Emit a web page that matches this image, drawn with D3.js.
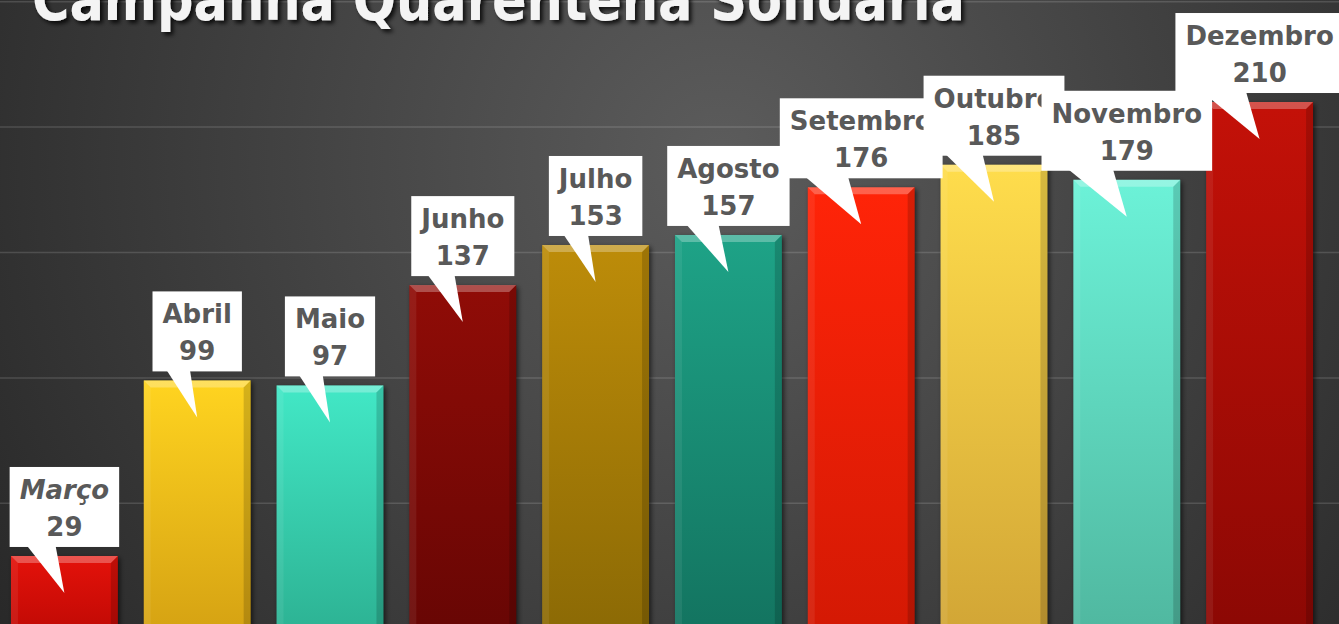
<!DOCTYPE html>
<html>
<head>
<meta charset="utf-8">
<script src="https://cdn.jsdelivr.net/npm/d3@7"></script>
<style>
  html, body { margin: 0; padding: 0; background: #3a3a3a; overflow: hidden; }
  svg { display: block; }
</style>
</head>
<body>
<div id="chart"></div>
<script>
const width = 1339, height = 624;

const months = ['Março', 'Abril', 'Maio', 'Junho', 'Julho', 'Agosto', 'Setembro', 'Outubro', 'Novembro', 'Dezembro'];
const values = [29, 99, 97, 137, 153, 157, 176, 185, 179, 210];
const topColors = ['#e4120a', '#ffd420', '#42e8c6', '#900c07', '#bd8c09', '#1ea387', '#ff2408', '#ffdd4c', '#6cf2d8', '#c41108'];
const bottomColors = ['#c20a05', '#d6a313', '#2db394', '#680604', '#8c6a05', '#137460', '#d41904', '#d2a636', '#50b8a0', '#8c0804'];
const gridTicks = [0, 50, 100, 150, 200, 250];
const title = 'Campanha Quarentena Solidária';

const svg = d3.select('#chart')
    .append('svg')
    .attr('width', width)
    .attr('height', height);

const defs = svg.append('defs');

// background
const bg = defs.append('radialGradient')
    .attr('id', 'bg')
    .attr('gradientUnits', 'userSpaceOnUse')
    .attr('cx', 720).attr('cy', 160).attr('r', 900);
bg.append('stop').attr('offset', '0%').attr('stop-color', '#5c5c5c');
bg.append('stop').attr('offset', '100%').attr('stop-color', '#262626');

svg.append('rect')
    .attr('width', width)
    .attr('height', height)
    .attr('fill', 'url(#bg)');

const blur = defs.append('filter').attr('id', 'blur')
    .attr('x', '-20%').attr('y', '-20%').attr('width', '140%').attr('height', '140%');
blur.append('feGaussianBlur').attr('stdDeviation', 2.5);

const titleShadow = defs.append('filter').attr('id', 'tshadow')
    .attr('x', '-10%').attr('y', '-50%').attr('width', '120%').attr('height', '200%');
titleShadow.append('feDropShadow')
    .attr('dx', 3).attr('dy', 3).attr('stdDeviation', 2)
    .attr('flood-color', '#000').attr('flood-opacity', 0.8);

months.forEach((m, i) => {
    const g = defs.append('linearGradient')
        .attr('id', 'grad' + i)
        .attr('x1', 0).attr('y1', 0).attr('x2', 0).attr('y2', 1);
    g.append('stop').attr('offset', '0%').attr('stop-color', topColors[i]);
    g.append('stop').attr('offset', '100%').attr('stop-color', bottomColors[i]);
});

const xScale = d3.scaleBand()
    .domain(months)
    .range([-2, 1326])
    .paddingInner(0.195)
    .paddingOuter(0.0975);

const yScale = d3.scaleLinear()
    .domain([0, 250])
    .range([628.7, 1.7]);

// gridlines
svg.append('g')
    .selectAll('line')
    .data(gridTicks)
    .enter()
    .append('line')
    .attr('x1', 0)
    .attr('x2', width)
    .attr('y1', d => yScale(d))
    .attr('y2', d => yScale(d))
    .attr('stroke', 'rgba(255,255,255,0.14)')
    .attr('stroke-width', 1.5);

// title
svg.append('text')
    .attr('x', 32)
    .attr('y', 20)
    .attr('textLength', 933)
    .attr('lengthAdjust', 'spacingAndGlyphs')
    .attr('fill', '#f4f4f4')
    .attr('filter', 'url(#tshadow)')
    .style('font-family', '"DejaVu Sans", sans-serif')
    .style('font-weight', 'bold')
    .style('font-size', '58px')
    .text(title);

// bars
const bw = xScale.bandwidth();
const bev = 7;
const bars = svg.selectAll('.bar')
    .data(months)
    .enter()
    .append('g')
    .attr('class', 'bar');

// shadow behind each bar
bars.append('rect')
    .attr('x', d => xScale(d) + 2)
    .attr('y', (d, i) => yScale(values[i]) + 2)
    .attr('width', bw)
    .attr('height', (d, i) => yScale(0) - yScale(values[i]))
    .attr('fill', 'rgba(0,0,0,0.6)')
    .attr('filter', 'url(#blur)');

bars.append('rect')
    .attr('x', d => xScale(d))
    .attr('y', (d, i) => yScale(values[i]))
    .attr('width', bw)
    .attr('height', (d, i) => yScale(0) - yScale(values[i]))
    .attr('fill', (d, i) => `url(#grad${i})`);

// top bevel
bars.append('polygon')
    .attr('points', (d, i) => {
        const x = xScale(d), y = yScale(values[i]);
        return [[x, y], [x + bw, y], [x + bw - bev, y + bev], [x + bev, y + bev]].join(' ');
    })
    .attr('fill', 'rgba(255,255,255,0.28)');

// left bevel
bars.append('polygon')
    .attr('points', (d, i) => {
        const x = xScale(d), y = yScale(values[i]), b = yScale(0);
        return [[x, y], [x + bev, y + bev], [x + bev, b], [x, b]].join(' ');
    })
    .attr('fill', 'rgba(255,255,255,0.07)');

// right bevel
bars.append('polygon')
    .attr('points', (d, i) => {
        const x = xScale(d) + bw, y = yScale(values[i]), b = yScale(0);
        return [[x, y], [x - bev, y + bev], [x - bev, b], [x, b]].join(' ');
    })
    .attr('fill', 'rgba(0,0,0,0.16)');

// callouts
const fontSize = 26;
const callouts = svg.selectAll('.callout')
    .data(months)
    .enter()
    .append('g')
    .attr('class', 'callout');

callouts.each(function (d, i) {
    const g = d3.select(this);
    const cx = xScale(d) + bw / 2;
    const top = yScale(values[i]);
    const boxBottom = top - 9, boxTop = boxBottom - 80;

    const rect = g.append('rect').attr('fill', '#ffffff');
    const tail = g.append('polygon').attr('fill', '#ffffff');

    const t1 = g.append('text')
        .attr('x', cx)
        .attr('y', boxTop + 32)
        .attr('text-anchor', 'middle')
        .attr('fill', '#595959')
        .style('font-family', '"DejaVu Sans", sans-serif')
        .style('font-weight', 'bold')
        .style('font-style', i === 0 ? 'italic' : 'normal')
        .style('font-size', fontSize + 'px')
        .text(d);
    g.append('text')
        .attr('x', cx)
        .attr('y', boxTop + 69)
        .attr('text-anchor', 'middle')
        .attr('fill', '#595959')
        .style('font-family', '"DejaVu Sans", sans-serif')
        .style('font-weight', 'bold')
        .style('font-size', fontSize + 'px')
        .text(values[i]);

    const w = t1.node().getComputedTextLength() + 20;
    const left = cx - w / 2;
    rect.attr('x', left).attr('y', boxTop).attr('width', w).attr('height', 80);
    tail.attr('points', [
        [left + 0.16 * w, boxBottom - 1],
        [left + 0.42 * w, boxBottom - 1],
        [cx, top + 37]
    ].join(' '));
});
</script>
</body>
</html>
